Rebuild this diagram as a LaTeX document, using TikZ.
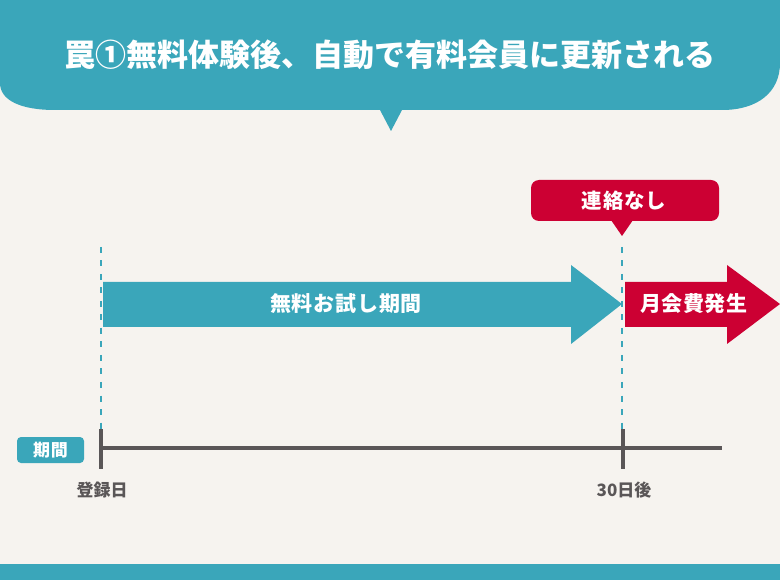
\documentclass[tikz,border=0pt]{standalone}
\usepackage{fontspec}
\setmainfont{Noto Sans CJK JP}
\definecolor{bgc}{HTML}{F6F3EF}
\definecolor{teal1}{HTML}{3AA6BA}
\definecolor{red1}{HTML}{CC0033}
\definecolor{gray1}{HTML}{5A5657}
\newcommand{\gapx}[1]{\hspace{#1pt}}
\tikzset{
  lbl/.style={font=\bfseries, inner sep=0pt, anchor=center},
  dashline/.style={teal1, line width=2.6pt, dash pattern=on 6pt off 7.5pt},
  axisline/.style={gray1, line width=4pt},
}
\begin{document}
\begin{tikzpicture}[x=1pt,y=-1pt]
\useasboundingbox (0,0) rectangle (780,580);
\fill[bgc] (0,0) rectangle (780,580);
% header
\fill[teal1] (0,0) -- (0,83) .. controls (0,100) and (20,110) .. (55,110)
  -- (380,110) -- (391,131) -- (402,110) -- (722,110)
  .. controls (758,110) and (780,92) .. (780,63) -- (780,0) -- cycle;
\node[lbl, text=white, font=\bfseries\fontsize{31}{31}\selectfont] (title) at (390,55) {罠①無料体験後、自動で有料会員に更新される};
% bottom bar
\fill[teal1] (0,564) rectangle (780,580);
% dashed guides
\coordinate (d1a) at (101,247); \coordinate (d1b) at (101,430);
\coordinate (d2a) at (622,247); \coordinate (d2b) at (622,430);
\draw[dashline] (d1a) -- (d1b);
\draw[dashline] (d2a) -- (d2b);
% callout
\fill[red1, rounded corners=8pt] (531,180) rectangle (719,221);
\fill[red1] (611,220) -- (622,236) -- (633,220) -- cycle;
\node[lbl, text=white, font=\bfseries\fontsize{20.5}{20.5}\selectfont] (nocontact) at (624,201) {連\gapx{0.7}絡\gapx{0.7}な\gapx{0.7}し};
% teal arrow
\fill[teal1] (103,282) -- (571,282) -- (571,265) -- (622,304) -- (571,344) -- (571,327) -- (103,327) -- cycle;
\node[lbl, text=white, font=\bfseries\fontsize{21}{21}\selectfont] (free) at (346,304) {無\gapx{0.8}料\gapx{0.8}お\gapx{0.8}試\gapx{0.8}し\gapx{0.8}期\gapx{0.8}間};
% red arrow
\fill[red1] (625,282) -- (727,282) -- (727,265) -- (780,304) -- (727,344) -- (727,327) -- (625,327) -- cycle;
\node[lbl, text=white, font=\bfseries\fontsize{21}{21}\selectfont] (fee) at (694,304) {月\gapx{0.5}会\gapx{0.5}費\gapx{0.5}発\gapx{0.5}生};
% timeline
\coordinate (t0) at (101,448); \coordinate (t1) at (722,448);
\draw[axisline] (t0) -- (t1);
\coordinate (k1a) at (101,429); \coordinate (k1b) at (101,469);
\coordinate (k2a) at (623,429); \coordinate (k2b) at (623,469);
\draw[axisline] (k1a) -- (k1b);
\draw[axisline] (k2a) -- (k2b);
\fill[teal1, rounded corners=4pt] (17,437) rectangle (84,463);
\node[lbl, text=white, font=\bfseries\fontsize{17}{17}\selectfont] (period) at (50.5,450) {期\gapx{1}間};
\node[lbl, text=gray1, font=\bfseries\fontsize{17}{17}\selectfont] (start) at (102,490) {登録日};
\node[lbl, text=gray1, font=\bfseries\fontsize{17}{17}\selectfont] (end) at (624,490) {30日後};
\end{tikzpicture}
\end{document}
